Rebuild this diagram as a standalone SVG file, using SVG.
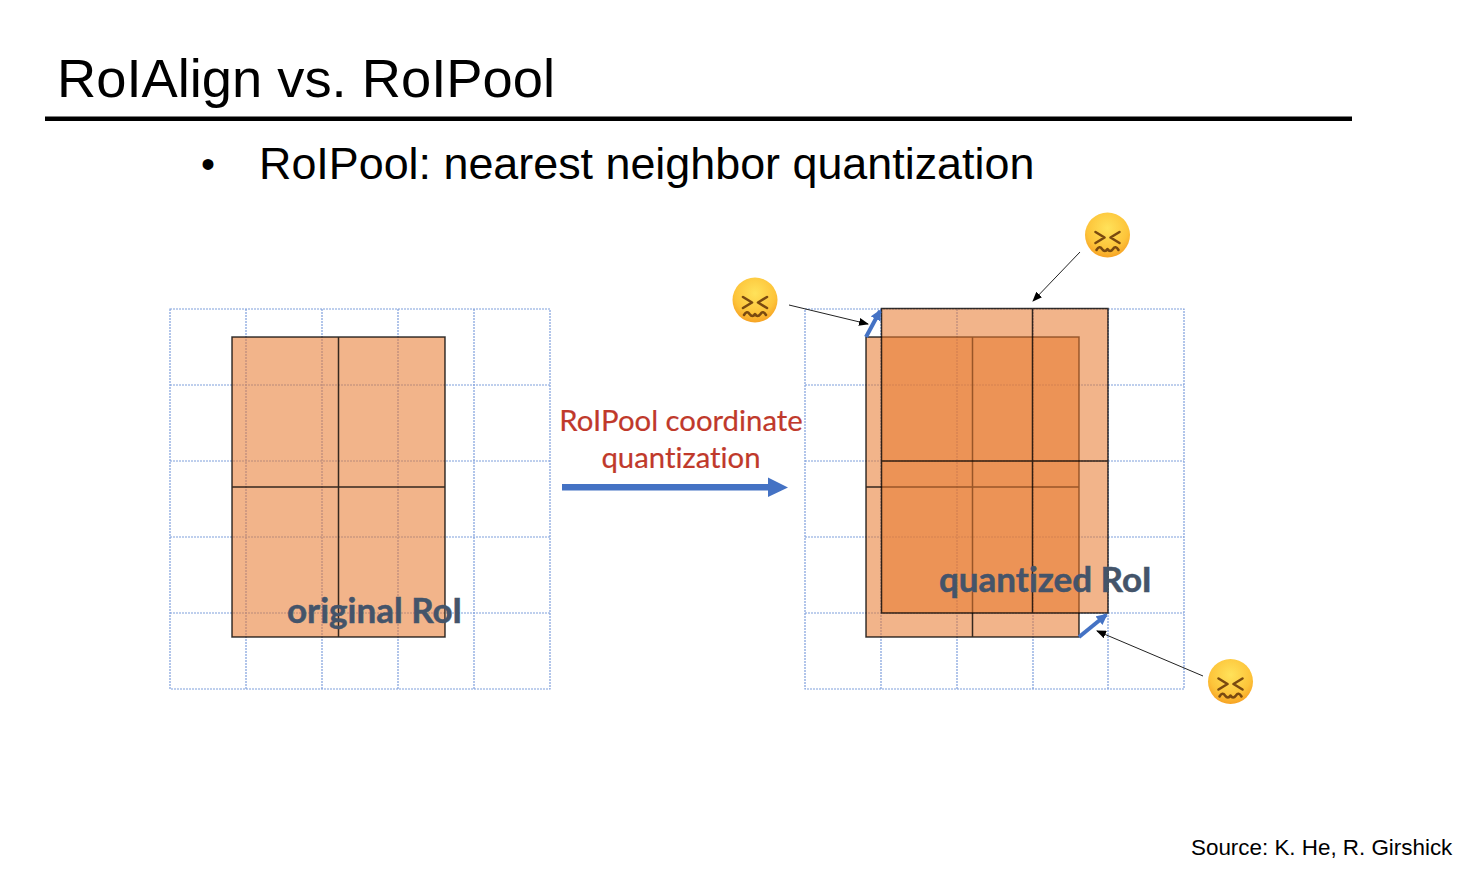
<svg xmlns="http://www.w3.org/2000/svg" width="1470" height="880" viewBox="0 0 1470 880">
<style>
.sans{font-family:"Liberation Sans",Arial,sans-serif;fill:#000}
.cal{font-family:Lato,"Open Sans",sans-serif;font-variant-ligatures:none}
.grid{fill:none;stroke:#7f9fdc;stroke-width:1.2;stroke-dasharray:2 1}
.roi{fill:#e87a2e;fill-opacity:.56;stroke:none}
.roiline{fill:none;stroke:#000;stroke-opacity:.78;stroke-width:1.5}
.lbl{font-size:35px;font-weight:700;fill:#44546a;stroke:#44546a;stroke-width:.5}
.red{font-size:29.300px;fill:#c0392b;text-anchor:middle;stroke:#c0392b;stroke-width:.2}
.blue{stroke:#4472c4;stroke-width:4;fill:none}
.thin{stroke:#222;stroke-width:1;fill:none}
.mouth{fill:none;stroke:#7a4a10;stroke-width:2.600;stroke-linecap:round;stroke-linejoin:round}
</style>
<defs>
<marker id="ah" markerWidth="10" markerHeight="8" refX="9" refY="4" orient="auto" markerUnits="userSpaceOnUse"><path d="M0 0L10 4L0 8Z" fill="#000"/></marker>
<marker id="bh" markerWidth="11" markerHeight="11" refX="9" refY="5.500" orient="auto" markerUnits="userSpaceOnUse"><path d="M0 0L11 5.500L0 11Z" fill="#4472c4"/></marker>
<radialGradient id="fg" cx=".5" cy=".35" r=".7"><stop offset="0" stop-color="#ffe25a"/><stop offset=".65" stop-color="#fdc43a"/><stop offset="1" stop-color="#f59a1e"/></radialGradient>
<g id="face">
<circle r="22.500" fill="url(#fg)"/>
<path class="mouth" d="M-12 -3L-3 2.500L-12 8M12 -3L3 2.500L12 8"/>
<path class="mouth" d="M-11 15Q-8 10 -5.500 14Q-2.500 18 0 14Q2.500 18 5.500 14Q8 10 11 15"/>
</g>
</defs>
<rect width="1470" height="880" fill="#fff"/>
<text id="title" class="sans" x="57" y="97" font-size="54.300">RoIAlign vs. RoIPool</text>
<rect x="45" y="116.500" width="1307" height="4.500" fill="#000"/>
<text id="bullet" class="sans" x="201" y="178" font-size="40">•</text>
<text id="subtitle" class="sans" x="259" y="179" font-size="44.850">RoIPool: nearest neighbor quantization</text>

<g id="left-grid"><path class="grid" d="M170 309H550V689H170ZM246 309V689M322 309V689M398 309V689M474 309V689M170 385H550M170 461H550M170 537H550M170 613H550"/></g>
<g id="right-grid"><path class="grid" d="M805 309H1184V689H805ZM881 309V689M957 309V689M1033 309V689M1108 309V689M805 385H1184M805 461H1184M805 537H1184M805 613H1184"/></g>

<g id="original-roi">
<rect class="roi" x="232" y="337" width="213" height="300"/>
<path class="roiline" d="M232 337H445V637H232ZM338.500 337V637M232 487H445"/>
<text class="cal lbl" x="287" y="623">original RoI</text>
</g>
<g id="quantized-roi">
<rect class="roi" x="866" y="337" width="213" height="300"/>
<path class="roiline" d="M866 337H1079V637H866ZM972.500 337V637M866 487H1079"/>
<rect class="roi" x="881.500" y="308.500" width="226.500" height="304.500"/>
<path class="roiline" d="M881.500 308.500H1108V613H881.500ZM1032.500 308.500V613M881.500 461H1108"/>
<text class="cal lbl" x="939" y="592">quantized RoI</text>
</g>
<g id="caption">
<text class="cal red" x="681" y="431">RoIPool coordinate</text>
<text class="cal red" x="681" y="468">quantization</text>
</g>
<g id="connectors">
<path d="M562 484H768V477.500L788 487.500L768 497V490.500H562Z" fill="#4472c4"/>
<path class="blue" d="M866 337L880 311" marker-end="url(#bh)"/>
<path class="blue" d="M1079 637L1106 615" marker-end="url(#bh)"/>
<path class="thin" d="M789 305L868 324" marker-end="url(#ah)"/>
<path class="thin" d="M1080 252L1033 301" marker-end="url(#ah)"/>
<path class="thin" d="M1203 676L1097 631" marker-end="url(#ah)"/>
</g>
<g id="face-1"><use href="#face" x="755" y="300"/></g>
<g id="face-2"><use href="#face" x="1107.500" y="235"/></g>
<g id="face-3"><use href="#face" x="1230.500" y="681.500"/></g>
<text id="source" class="sans" x="1191" y="855" font-size="22.400">Source: K. He, R. Girshick</text>
</svg>
